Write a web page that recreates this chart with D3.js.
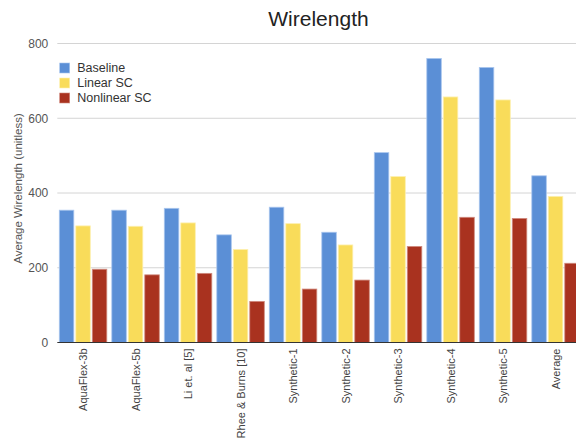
<!DOCTYPE html>
<html>
<head>
<meta charset="utf-8">
<script src="https://cdn.jsdelivr.net/npm/d3@7"></script>
<style>
  html, body { margin: 0; padding: 0; background: #fff; }
  svg { display: block; font-family: "Liberation Sans", Arial, Helvetica, sans-serif; }
</style>
</head>
<body>
<svg id="chart" width="576" height="443"></svg>
<script>
// Benchmarks along the x axis
const categories = ["AquaFlex-3b", "AquaFlex-5b", "Li et. al [5]", "Rhee & Burns [10]",
  "Synthetic-1", "Synthetic-2", "Synthetic-3", "Synthetic-4", "Synthetic-5", "Average"];

// Series names and their average wirelength values
const seriesNames = ["Baseline", "Linear SC", "Nonlinear SC"];
const baseline   = [354, 354, 359, 288, 362, 295, 508, 760, 736, 446];
const linearSC   = [312, 311, 320, 249, 318, 261, 444, 657, 649, 391];
const nonlinearSC = [196, 181, 185, 110, 143, 167, 257, 335, 332, 212];

const yTicks = [0, 200, 400, 600, 800];
const colors = ["#5b8fd6", "#f9dc5a", "#a9321f"];
const strokes = ["#a9c6ee", "#fdf0b0", "#d08a7e"];

const seriesValues = [baseline, linearSC, nonlinearSC];

const svg = d3.select("#chart");
const W = 576, H = 443;
const margin = { left: 57.3, top: 43.5, bottom: 342.5 };
const plotRight = 582.3;

const x = d3.scaleBand().domain(categories).range([margin.left, plotRight]).padding(0);
const xs = d3.scaleBand().domain(seriesNames).range([2, x.bandwidth() - 3]).paddingInner(0.12).paddingOuter(0);
const y = d3.scaleLinear().domain([0, 800]).range([margin.bottom, margin.top]);

// Horizontal gridlines
svg.append("g")
  .selectAll("line")
  .data(yTicks.filter(d => d > 0))
  .join("line")
  .attr("x1", margin.left).attr("x2", W)
  .attr("y1", d => y(d)).attr("y2", d => y(d))
  .attr("stroke", "#d4d4d4").attr("stroke-width", 1);

// Y axis tick labels
const yAxis = d3.axisLeft(y).tickValues(yTicks).tickSize(0).tickPadding(9);
svg.append("g")
  .attr("transform", `translate(${margin.left},0)`)
  .call(yAxis)
  .call(g => g.select(".domain").remove())
  .call(g => g.selectAll("text")
    .attr("fill", "#555")
    .style("font-size", "12px")
    .style("font-family", "'Liberation Sans', Arial, sans-serif"));

// Bars
const groups = svg.append("g")
  .selectAll("g")
  .data(categories)
  .join("g")
  .attr("transform", d => `translate(${x(d)},0)`);

groups.selectAll("rect")
  .data((c, i) => seriesNames.map((s, k) => ({ s, k, v: seriesValues[k][i] })))
  .join("rect")
  .attr("x", d => xs(d.s))
  .attr("width", xs.bandwidth())
  .attr("y", d => y(d.v))
  .attr("height", d => y(0) - y(d.v))
  .attr("fill", d => colors[d.k])
  .attr("stroke", d => strokes[d.k])
  .attr("stroke-width", 0.8);

// X axis baseline
svg.append("line")
  .attr("x1", margin.left).attr("x2", W)
  .attr("y1", y(0)).attr("y2", y(0))
  .attr("stroke", "#333").attr("stroke-width", 1.2);

// X axis labels, rotated
const xAxis = d3.axisBottom(x).tickSize(0).tickPadding(0);
svg.append("g")
  .attr("transform", `translate(0,${y(0)})`)
  .call(xAxis)
  .call(g => g.select(".domain").remove())
  .call(g => g.selectAll("text")
    .attr("fill", "#444")
    .attr("text-anchor", "end")
    .attr("dy", "0.35em")
    .attr("transform", "translate(0,6) rotate(-90)")
    .attr("x", 0).attr("y", 0)
    .style("font-size", "11px")
    .style("font-family", "'Liberation Sans', Arial, sans-serif"));

// Title
svg.append("text")
  .attr("x", 318.5).attr("y", 26)
  .attr("text-anchor", "middle")
  .attr("fill", "#222")
  .style("font-size", "21px")
  .text("Wirelength");

// Y axis title
svg.append("text")
  .attr("transform", "translate(21.5,188.5) rotate(-90)")
  .attr("text-anchor", "middle")
  .attr("fill", "#555")
  .style("font-size", "11.5px")
  .text("Average Wirelength (unitless)");

// Legend
const legend = svg.append("g")
  .selectAll("g")
  .data(seriesNames)
  .join("g")
  .attr("transform", (d, i) => `translate(59.7,${68 + i * 15})`);

legend.append("rect")
  .attr("x", 0).attr("y", -5)
  .attr("width", 10).attr("height", 10)
  .attr("fill", (d, i) => colors[i])
  .attr("stroke", (d, i) => strokes[i]).attr("stroke-width", 0.6);

legend.append("text")
  .attr("x", 17.5).attr("y", 0)
  .attr("dy", "0.35em")
  .attr("fill", "#333")
  .style("font-size", "12.5px")
  .text(d => d);
</script>
</body>
</html>
